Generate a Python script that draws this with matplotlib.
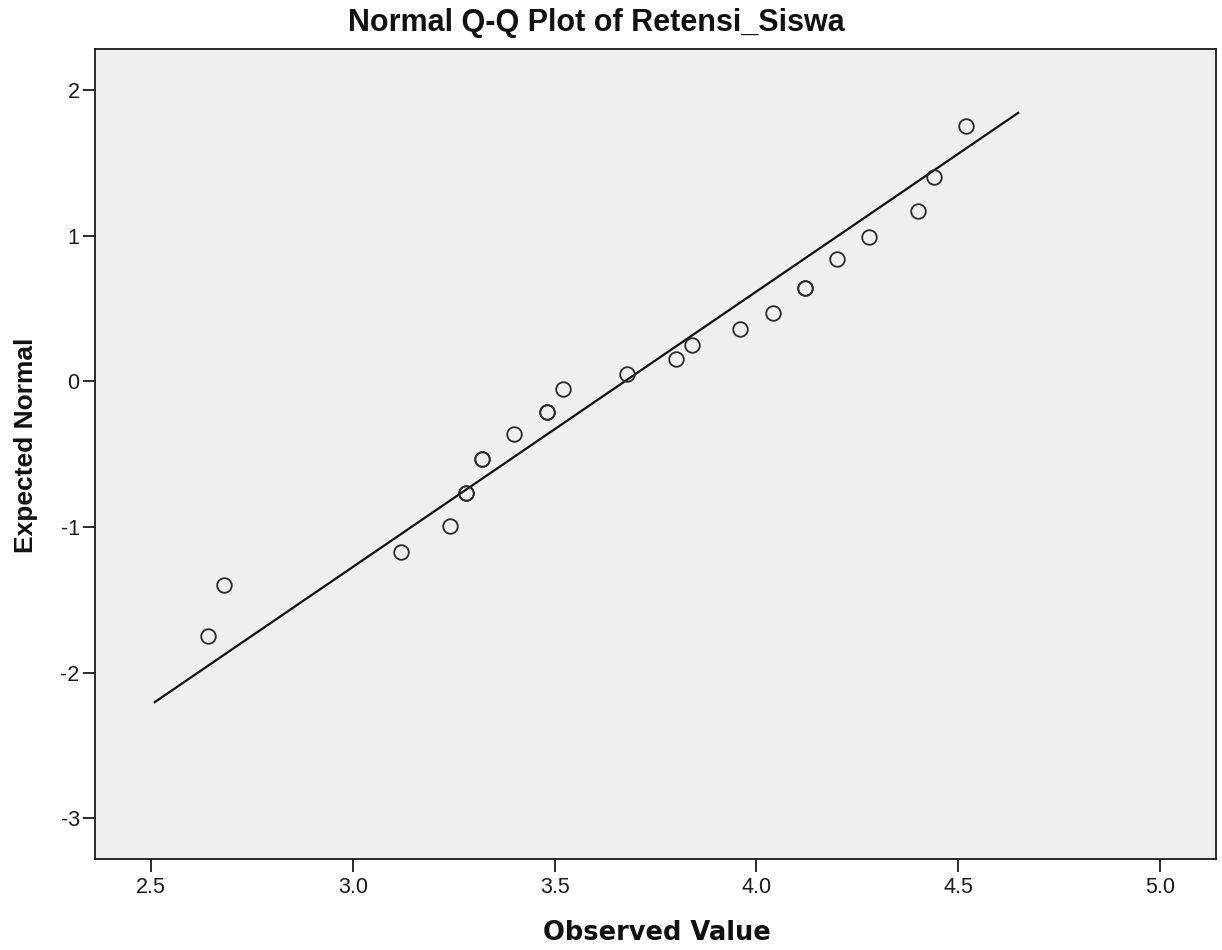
import matplotlib
matplotlib.use("Agg")
import matplotlib.pyplot as plt
import numpy as np

# ---- data ----
observed = [2.64, 2.68, 3.12, 3.24, 3.28, 3.28, 3.32, 3.32, 3.40, 3.48, 3.48,
            3.52, 3.68, 3.80, 3.84, 3.96, 4.04, 4.12, 4.12, 4.20, 4.28, 4.40,
            4.44, 4.52]
expected = [-1.75, -1.40, -1.17, -0.99, -0.77, -0.77, -0.53, -0.53, -0.36,
            -0.21, -0.21, -0.05, 0.05, 0.15, 0.25, 0.36, 0.47, 0.64, 0.64,
            0.84, 0.99, 1.17, 1.40, 1.75]
line_x = [2.507, 4.651]
line_mean = 3.674
line_sd = 0.529
x_ticks = [2.5, 3.0, 3.5, 4.0, 4.5, 5.0]
x_ticklabels = ["2.5", "3.0", "3.5", "4.0", "4.5", "5.0"]
y_ticks = [-3, -2, -1, 0, 1, 2]
y_ticklabels = ["-3", "-2", "-1", "0", "1", "2"]
title = "Normal Q-Q Plot of Retensi_Siswa"
xlabel = "Observed Value"
ylabel = "Expected Normal"

W, H = 1222, 950
fig = plt.figure(figsize=(W / 100, H / 100), dpi=100)
fig.patch.set_facecolor("white")

ax = fig.add_axes([95 / W, 1 - 859 / H, 1121 / W, 810 / H])
ax.set_facecolor("#efefef")

lx = np.array(line_x)
ax.plot(lx, (lx - line_mean) / line_sd, color="#111111", lw=1.6,
        solid_capstyle="butt", zorder=2)
ax.plot(observed, expected, linestyle="none", marker="o", ms=10.5,
        mfc="none", mec="#2a2a2a", mew=1.3, zorder=3)

ax.set_xlim(2.361, 5.139)
ax.set_ylim(-3.279, 2.281)
ax.set_xticks(x_ticks)
ax.set_xticklabels(x_ticklabels)
ax.set_yticks(y_ticks)
ax.set_yticklabels(y_ticklabels)

for s in ax.spines.values():
    s.set_color("#1a1a1a")
    s.set_linewidth(1.3)

ax.tick_params(axis="both", direction="out", length=9, width=1.3,
               color="#1a1a1a", labelsize=15.5, labelcolor="#1a1a1a")
ax.tick_params(axis="x", pad=4)
ax.tick_params(axis="y", pad=2)
for lab in ax.get_xticklabels() + ax.get_yticklabels():
    lab.set_fontfamily("Liberation Sans")

fig.text(596 / W, 1 - 23 / H, title, ha="center", va="center",
         fontsize=22, fontweight="bold", family="Liberation Sans",
         color="#111111")
fig.text(657 / W, 1 - 933 / H, xlabel, ha="center", va="center",
         fontsize=18.5, fontweight="bold", family="DejaVu Sans",
         color="#111111")
fig.text(26 / W, 1 - 445 / H, ylabel, ha="center", va="center",
         rotation=90, fontsize=19, fontweight="bold",
         family="Liberation Sans", color="#111111")

fig.savefig("out.png", dpi=100)
